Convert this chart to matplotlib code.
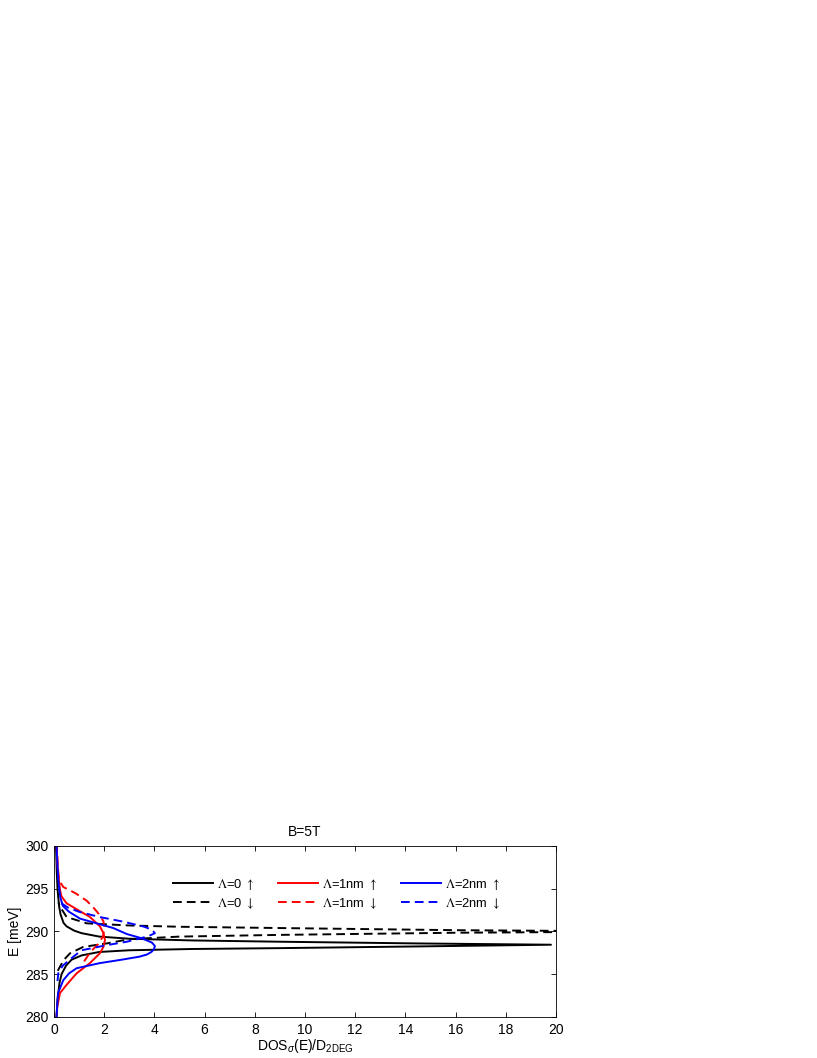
import matplotlib

matplotlib.use("Agg")
import matplotlib.pyplot as plt
from matplotlib.font_manager import FontProperties

plt.rcParams["font.family"] = ["Liberation Sans", "DejaVu Sans"]
plt.rcParams["mathtext.fontset"] = "custom"
plt.rcParams["mathtext.rm"] = "Liberation Sans"
plt.rcParams["mathtext.it"] = "Liberation Sans:italic"
plt.rcParams["mathtext.sf"] = "Liberation Sans"

# Energy (meV) and DOS values, one pair of lists per curve
E_L0_UP = [280.0, 282.0, 284.0, 285.0, 286.0, 286.7, 287.2, 287.6, 287.8, 287.95,
           288.05, 288.25, 288.45, 288.6, 288.8, 288.95, 289.15, 289.4, 289.8,
           290.1, 290.6, 291.0, 292.0, 293.0, 295.0, 297.0, 300.0]
D_L0_UP = [0.10, 0.14, 0.22, 0.30, 0.48, 0.70, 1.10, 1.80, 3.0, 5.5,
           9.0, 14.5, 19.8, 14.5, 9.0, 5.5, 3.0, 1.8, 1.1,
           0.8, 0.5, 0.38, 0.26, 0.20, 0.14, 0.11, 0.08]

E_L0_DN = [285.4, 285.9, 286.7, 287.45, 288.2, 288.6, 289.1, 289.4, 289.6, 289.85,
           290.0, 290.15, 290.4, 290.55, 290.7, 290.95, 291.7, 292.9, 293.4]
D_L0_DN = [0.15, 0.24, 0.40, 0.64, 1.17, 2.1, 3.0, 5.0, 9.0, 16.0,
           24.0, 16.0, 9.0, 5.0, 3.0, 1.3, 0.5, 0.24, 0.18]

E_L1_UP = [280.0, 281.2, 282.8, 283.75, 285.1, 286.3, 287.45, 288.2, 289.0, 289.8,
           290.6, 291.7, 292.5, 293.3, 294.1, 294.85, 297.2, 300.0]
D_L1_UP = [0.10, 0.13, 0.24, 0.50, 0.90, 1.43, 1.83, 1.97, 2.03, 1.97,
           1.83, 1.43, 0.96, 0.50, 0.30, 0.24, 0.15, 0.10]

E_L1_DN = [286.5, 287.6, 288.5, 289.4, 290.3, 291.2, 292.1, 292.7, 293.6, 294.5,
           295.2, 296.0, 298.0, 300.0]
D_L1_DN = [1.20, 1.45, 1.75, 1.95, 2.0, 1.97, 1.77, 1.60, 1.30, 0.84,
           0.37, 0.20, 0.14, 0.12]

E_L2_UP = [280.0, 282.8, 284.3, 285.1, 285.7, 286.3, 286.7, 287.05, 287.3, 287.6,
           287.9, 288.3, 288.7, 289.2, 289.7, 290.4, 291.5, 292.3, 293.0, 294.0,
           296.0, 300.0]
D_L2_UP = [0.10, 0.16, 0.37, 0.60, 0.90, 1.83, 2.7, 3.4, 3.7, 3.88,
           3.98, 4.02, 3.9, 3.5, 2.9, 2.36, 1.04, 0.60, 0.35, 0.25,
           0.17, 0.10]

E_L2_DN = [284.2, 285.1, 286.0, 287.0, 287.8, 288.4, 288.8, 289.2, 289.5, 289.8,
           290.2, 290.55, 291.15, 291.7, 292.3, 292.8, 293.3]
D_L2_DN = [0.14, 0.17, 0.35, 0.75, 1.1, 2.1, 2.9, 3.45, 3.8, 4.02,
           3.9, 3.6, 2.75, 1.8, 1.0, 0.55, 0.30]

X_TICKS = [0, 2, 4, 6, 8, 10, 12, 14, 16, 18, 20]
Y_TICKS = [280, 285, 290, 295, 300]

DASH = (0, (4.5, 2.6))


def main():
    fig = plt.figure(figsize=(8.17, 10.58), dpi=100)
    ax = fig.add_axes([0.0661, 0.0388, 0.6144, 0.1616])

    ax.plot(D_L0_UP, E_L0_UP, color="black", lw=1.4, label=r"$\Lambda$=0 $\uparrow$")
    ax.plot(D_L0_DN, E_L0_DN, color="black", lw=1.4, ls=DASH,
            label=r"$\Lambda$=0 $\downarrow$")
    ax.plot(D_L1_UP, E_L1_UP, color="red", lw=1.4, label=r"$\Lambda$=1nm $\uparrow$")
    ax.plot(D_L1_DN, E_L1_DN, color="red", lw=1.4, ls=DASH,
            label=r"$\Lambda$=1nm $\downarrow$")
    ax.plot(D_L2_UP, E_L2_UP, color="blue", lw=1.4, label=r"$\Lambda$=2nm $\uparrow$")
    ax.plot(D_L2_DN, E_L2_DN, color="blue", lw=1.4, ls=DASH,
            label=r"$\Lambda$=2nm $\downarrow$")

    ax.set_xlim(0, 20)
    ax.set_ylim(280, 300)
    ax.set_xticks(X_TICKS)
    ax.set_yticks(Y_TICKS)
    ax.tick_params(direction="in", top=True, right=True, length=3.5, width=0.6,
                   labelsize=10, pad=4)
    for spine in ax.spines.values():
        spine.set_linewidth(0.6)

    ax.set_title("B=5T", fontsize=10, pad=7)
    ax.set_xlabel(r"DOS$_\sigma$(E)/D$_{\rm 2DEG}$", fontsize=10, labelpad=0)
    ax.set_ylabel("E [meV]", fontsize=10, labelpad=2)

    legend_font = FontProperties(family=["Liberation Sans"], size=9.3,
                                 math_fontfamily="stix")
    ax.legend(ncol=3, frameon=False, prop=legend_font, loc="upper left",
              bbox_to_anchor=(0.226, 0.85), handlelength=3.1, handletextpad=0.3,
              columnspacing=1.9, labelspacing=0.3, borderaxespad=0)

    fig.savefig("out.png", dpi=100)


if __name__ == "__main__":
    main()
